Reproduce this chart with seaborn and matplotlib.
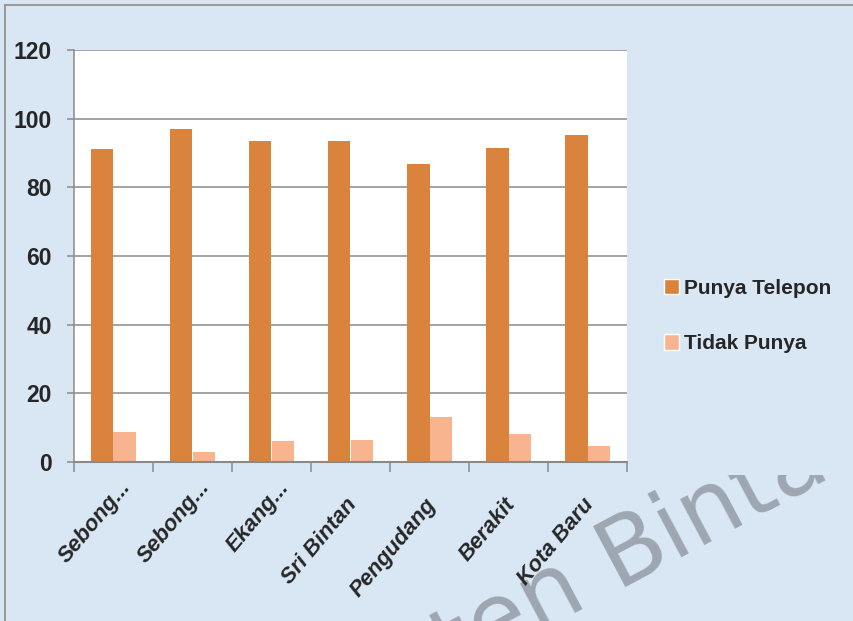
import pandas as pd
import matplotlib.pyplot as plt
import matplotlib.transforms as mtransforms
import seaborn as sns
from matplotlib.patches import Patch, Rectangle
from matplotlib.lines import Line2D

# --- Daten ---
desa = ["Sebong Lagoi", "Sebong Pereh", "Ekang Anculai", "Sri Bintan",
        "Pengudang", "Berakit", "Kota Baru"]
desa_label = ["Sebong...", "Sebong...", "Ekang...", "Sri Bintan",
              "Pengudang", "Berakit", "Kota Baru"]
punya_telepon = [91.1, 97.0, 93.6, 93.5, 86.8, 91.6, 95.2]
tidak_punya = [8.7, 2.8, 6.2, 6.4, 13.1, 8.3, 4.7]
y_ticks = [0, 20, 40, 60, 80, 100, 120]

df = pd.DataFrame({
    "desa": desa * 2,
    "persen": punya_telepon + tidak_punya,
    "status": ["Punya Telepon"] * len(desa) + ["Tidak Punya"] * len(desa),
})

sns.set_theme(style="white")
plt.rcParams['font.family'] = ['Liberation Sans', 'DejaVu Sans']

ORANGE = "#da833c"
PEACH = "#f8b48e"
BG = "#d9e7f5"
GRID = "#8a8a8a"

fig = plt.figure(figsize=(8.54, 6.21), dpi=100, facecolor=BG)

# Wasserzeichen (teilweise verdeckt)
wm_kw = dict(fontsize=68, color="#9ea7b1", rotation=28, rotation_mode="anchor",
             va="baseline", family=["DejaVu Sans"], zorder=0.5)
fig.text(616 / 854, 1 - 587 / 621, "Bintan", ha="left", **wm_kw)
fig.text(590 / 854, 1 - 600 / 621, "Kabupaten", ha="right", **wm_kw)
fig.add_artist(Rectangle((627 / 854, 1 - 475 / 621), 1, 1, transform=fig.transFigure,
                         facecolor=BG, edgecolor="none", zorder=1))

# Rahmen oben/links
fig.add_artist(Line2D([5 / 854, 5 / 854], [0, 1 - 5 / 621], transform=fig.transFigure,
                      color="#9a9a9a", lw=1.5, zorder=1.5))
fig.add_artist(Line2D([5 / 854, 1], [1 - 5 / 621, 1 - 5 / 621], transform=fig.transFigure,
                      color="#9a9a9a", lw=1.5, zorder=1.5))

ax = fig.add_axes([74 / 854, 1 - 462 / 621, (627 - 74) / 854, (462 - 50) / 621])
ax.set_zorder(2)
ax.set_facecolor("white")

sns.barplot(data=df, x="desa", y="persen", hue="status", order=desa,
            palette=[ORANGE, PEACH], saturation=1, width=0.57, gap=0,
            linewidth=0, legend=False, ax=ax)

ax.set_ylim(0, 120)
ax.set_xlim(-0.5, len(desa) - 0.5)
ax.set_yticks(y_ticks)
ax.set_yticklabels([str(v) for v in y_ticks], fontsize=16.5, fontweight="bold")
ax.yaxis.grid(True, color=GRID, lw=1.1)
ax.set_axisbelow(True)

# Kategoriegrenzen als Ticks
ax.set_xticks([i - 0.5 for i in range(len(desa) + 1)])
ax.set_xticklabels([])
ax.tick_params(axis="x", direction="out", length=7, width=1.1, color=GRID, bottom=True)
ax.tick_params(axis="y", direction="out", length=5, width=1.1, color=GRID, pad=11, left=True)

# schräge Beschriftungen (gekürzte Namen sitzen etwas höher, wie im Original)
for i, lab in enumerate(desa_label):
    if lab.endswith("..."):
        dx, dy = 14, -22
    else:
        dx, dy = 3, -39
    off = mtransforms.ScaledTranslation(dx / 100, dy / 100, fig.dpi_scale_trans)
    ax.text(i, 0, lab, transform=ax.get_xaxis_transform() + off,
            rotation=50, rotation_mode="anchor", ha="right", va="center",
            fontsize=16, fontweight="bold", style="italic", clip_on=False)

ax.set_xlabel("")
ax.set_ylabel("")
for side in ["top", "right"]:
    ax.spines[side].set_visible(False)
ax.spines["bottom"].set_color(GRID)
ax.spines["bottom"].set_linewidth(1.5)
ax.spines["left"].set_color(GRID)
ax.spines["left"].set_linewidth(1.1)

handles = [Patch(facecolor=ORANGE, label="Punya Telepon"),
           Patch(facecolor=PEACH, label="Tidak Punya")]
ax.legend(handles=handles, loc="center left", bbox_to_anchor=(664 / 854, 1 - 316 / 621),
          bbox_transform=fig.transFigure, frameon=False, borderpad=0, borderaxespad=0,
          handlelength=0.7, handleheight=0.75, handletextpad=0.25, labelspacing=1.75,
          prop={"size": 15, "weight": "bold"})

fig.savefig("out.png", dpi=100, facecolor=BG)
